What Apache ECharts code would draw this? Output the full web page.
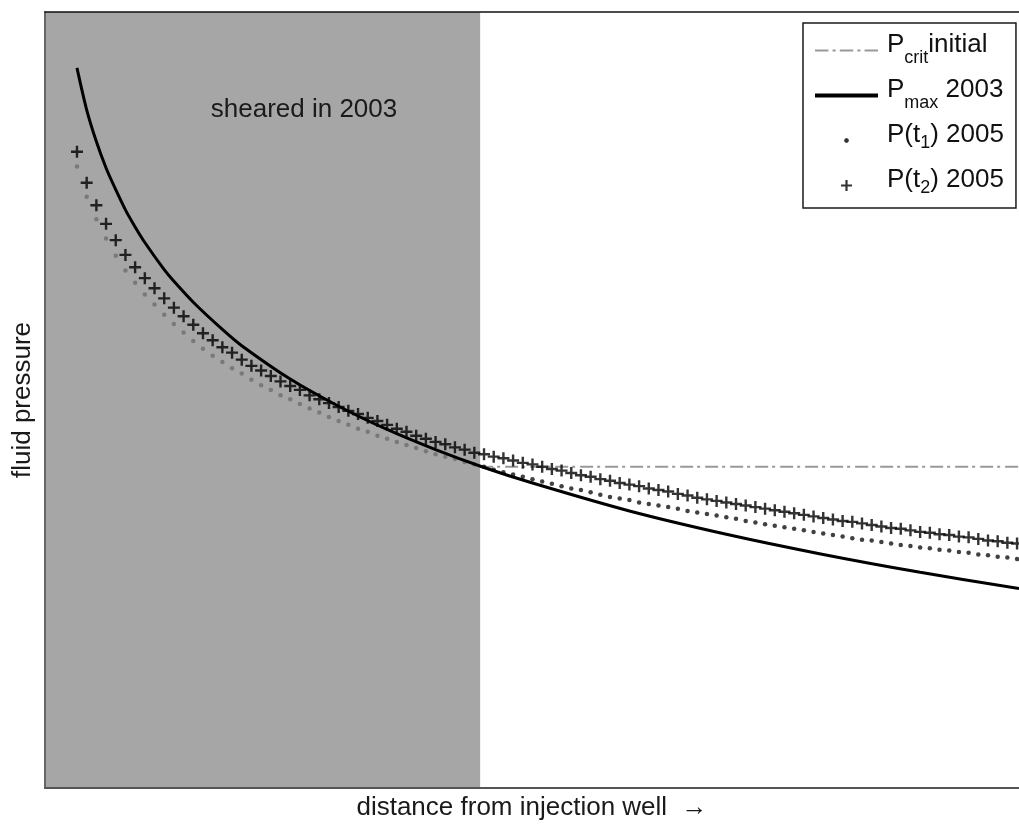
<!DOCTYPE html>
<html>
<head>
<meta charset="utf-8">
<script src="https://cdn.jsdelivr.net/npm/echarts@6/dist/echarts.min.js"></script>
<style>
  html, body { margin: 0; padding: 0; background: #fff; }
  #chart { width: 1019px; height: 824px; }
</style>
</head>
<body>
<div id="chart"></div>
<script>
// Distance from the injection well (arbitrary units) of the sampled pressure profiles
const distance = [
  3, 4, 5, 6, 7, 8, 9, 10, 11, 12, 13, 14, 15, 16, 17, 18, 19, 20, 21, 22,
  23, 24, 25, 26, 27, 28, 29, 30, 31, 32, 33, 34, 35, 36, 37, 38, 39, 40, 41, 42,
  43, 44, 45, 46, 47, 48, 49, 50, 51, 52, 53, 54, 55, 56, 57, 58, 59, 60, 61, 62,
  63, 64, 65, 66, 67, 68, 69, 70, 71, 72, 73, 74, 75, 76, 77, 78, 79, 80, 81, 82,
  83, 84, 85, 86, 87, 88, 89, 90, 91, 92, 93, 94, 95, 96, 97, 98, 99, 100
];

// P(t1) 2005 fluid pressure at each distance
const pressureT1 = [
  80.1, 76.2, 73.3, 70.8, 68.6, 66.7, 65.1, 63.6, 62.3, 61.0,
  59.8, 58.7, 57.6, 56.6, 55.7, 54.9, 54.1, 53.4, 52.6, 51.9,
  51.3, 50.6, 50.1, 49.5, 48.9, 48.4, 47.8, 47.3, 46.8, 46.3,
  45.9, 45.4, 45.0, 44.6, 44.2, 43.8, 43.4, 43.0, 42.7, 42.4,
  42.0, 41.7, 41.4, 41.0, 40.7, 40.4, 40.1, 39.8, 39.5, 39.2,
  38.9, 38.6, 38.4, 38.1, 37.8, 37.5, 37.3, 37.1, 36.8, 36.6,
  36.4, 36.2, 36.0, 35.7, 35.5, 35.3, 35.1, 34.9, 34.7, 34.4,
  34.2, 34.0, 33.8, 33.6, 33.4, 33.2, 33.0, 32.8, 32.6, 32.4,
  32.2, 32.0, 31.9, 31.7, 31.5, 31.3, 31.2, 31.0, 30.9, 30.7,
  30.6, 30.4, 30.3, 30.1, 30.0, 29.8, 29.7, 29.5
];

// P(t2) 2005 fluid pressure at each distance
const pressureT2 = [
  82.0, 78.0, 75.1, 72.7, 70.6, 68.7, 67.1, 65.7, 64.4, 63.1,
  61.9, 60.8, 59.7, 58.6, 57.7, 56.8, 56.1, 55.2, 54.4, 53.8,
  53.1, 52.4, 51.8, 51.3, 50.6, 50.1, 49.6, 49.1, 48.6, 48.2,
  47.7, 47.3, 46.8, 46.3, 45.9, 45.4, 45.0, 44.6, 44.3, 43.9,
  43.6, 43.2, 43.0, 42.7, 42.5, 42.2, 41.9, 41.7, 41.4, 41.1,
  40.9, 40.6, 40.3, 40.1, 39.8, 39.6, 39.3, 39.1, 38.9, 38.6,
  38.4, 38.2, 37.9, 37.7, 37.4, 37.2, 37.0, 36.8, 36.6, 36.4,
  36.2, 36.0, 35.8, 35.6, 35.4, 35.2, 35.0, 34.8, 34.6, 34.4,
  34.3, 34.1, 33.9, 33.7, 33.5, 33.4, 33.2, 33.0, 32.9, 32.7,
  32.6, 32.4, 32.3, 32.1, 31.9, 31.8, 31.6, 31.5
];

// Pmax 2003 envelope, sampled along the curve
const pMaxDistance = [3, 4, 5, 6, 7, 8, 9, 10, 12, 13, 15, 18, 20, 25, 30, 35, 40, 45, 50, 60, 70, 80, 90, 100.2];
const pMaxPressure = [92.8, 87.4, 83.3, 79.9, 77.1, 74.5, 72.3, 70.3, 66.8, 65.3, 62.6, 59.1, 57.0, 52.7, 49.2, 46.2, 43.6, 41.3, 39.3, 35.7, 32.7, 30.1, 27.8, 25.7];

// Initial critical pressure and the extent of the zone sheared in 2003
const pCritInitial = 41.4;
const shearedEdge = 44.6;

const seriesNames = ['Pcrit initial', 'Pmax 2003', 'P(t1) 2005', 'P(t2) 2005'];
const legendLabels = {
  'Pcrit initial': '{p|P}{d|crit}{m|initial}',
  'Pmax 2003': '{p|P}{d|max}{m| 2003}',
  'P(t1) 2005': '{p|P(t}{s|1}{m|) 2005}',
  'P(t2) 2005': '{p|P(t}{s|2}{m|) 2005}'
};

const FONT = '"Liberation Sans", Arial, Helvetica, sans-serif';
const X_MIN = -0.3, X_MAX = 100.2;

// plus-sign marker drawn as two filled bars
const plusPath = 'path://M4.8,0h2.4v12h-2.4z M0,4.8h12v2.4h-12z';

const chart = echarts.init(document.getElementById('chart'), null, { renderer: 'canvas' });

chart.setOption({
  animation: false,
  backgroundColor: '#fff',
  grid: { left: 45, top: 12, right: 0, bottom: 36, containLabel: false, outerBoundsMode: 'none' },
  xAxis: [
    {
      type: 'value', min: X_MIN, max: X_MAX, z: 4,
      name: 'distance from injection well  \u2192',
      nameLocation: 'middle', nameGap: 7,
      nameTextStyle: { fontSize: 26, color: '#1a1a1a', fontFamily: FONT },
      axisLine: { show: true, onZero: false, lineStyle: { color: '#555', width: 2 } },
      axisTick: { show: false }, axisLabel: { show: false }, splitLine: { show: false }
    },
    {
      type: 'value', position: 'top', min: 0, max: 1, z: 4,
      axisLine: { show: true, onZero: false, lineStyle: { color: '#111', width: 1.5 } },
      axisTick: { show: false }, axisLabel: { show: false }, splitLine: { show: false }
    }
  ],
  yAxis: {
    type: 'value', min: 0, max: 100, z: 4,
    name: 'fluid pressure', nameLocation: 'middle', nameRotate: 90, nameGap: 9,
    nameTextStyle: { fontSize: 26, color: '#1a1a1a', fontFamily: FONT },
    axisLine: { show: true, onZero: false, lineStyle: { color: '#666', width: 2 } },
    axisTick: { show: false }, axisLabel: { show: false }, splitLine: { show: false }
  },
  legend: {
    orient: 'vertical', left: 803, top: 23,
    padding: [9, 12, 4, 12], itemGap: 8,
    itemWidth: 63, itemHeight: 14,
    selectedMode: false,
    backgroundColor: '#fff', borderColor: '#1a1a1a', borderWidth: 1.5,
    data: [
      { name: seriesNames[0], icon: 'path://M0,0h13v2h-13z M17,0h3v2h-3z M24,0h13v2h-13z M41,0h3v2h-3z M48,0h13v2h-13z', itemStyle: { color: '#999' } },
      { name: seriesNames[1], icon: 'path://M0,0h63v4h-63z', itemStyle: { color: '#000' } },
      { name: seriesNames[2], icon: 'path://M0,0M14,14M7,4.6L8.7,5.3L9.4,7L8.7,8.7L7,9.4L5.3,8.7L4.6,7L5.3,5.3Z', itemStyle: { color: '#000' } },
      { name: seriesNames[3], icon: 'path://M0,0M14,14M5.9,1.5h2.2v11h-2.2z M1.5,5.9h11v2.2h-11z', itemStyle: { color: '#000' } }
    ],
    formatter: name => legendLabels[name],
    textStyle: {
      fontSize: 26, color: '#111', fontFamily: FONT,
      rich: {
        p: { fontSize: 26, fontFamily: FONT, color: '#111', lineHeight: 45, padding: [0, 0, 11, 4] },
        m: { fontSize: 26, fontFamily: FONT, color: '#111', lineHeight: 45, padding: [0, 0, 11, 0] },
        d: { fontSize: 18, fontFamily: FONT, color: '#111', padding: [16, 0, 0, 0] },
        s: { fontSize: 18, fontFamily: FONT, color: '#111', padding: [5, 0, 0, 0] }
      }
    }
  },
  graphic: [
    {
      type: 'text', x: 304, y: 110, z: 10,
      style: {
        text: 'sheared in 2003', fill: '#1a1a1a',
        font: '26px ' + FONT, align: 'center', verticalAlign: 'middle'
      }
    }
  ],
  series: [
    {
      name: seriesNames[0], type: 'line', symbol: 'none', z: 3,
      data: [[shearedEdge, pCritInitial], [X_MAX, pCritInitial]],
      lineStyle: { color: '#999', width: 2, type: [13, 4, 3, 5] },
      markArea: {
        silent: true, z: 1,
        itemStyle: { color: '#a6a6a6', opacity: 1 },
        data: [[{ xAxis: X_MIN, yAxis: 0 }, { xAxis: shearedEdge, yAxis: 100 }]]
      }
    },
    {
      name: seriesNames[2], type: 'scatter', symbol: 'circle', symbolSize: 4.5, z: 3,
      data: distance.map((d, i) => [d, pressureT1[i]]),
      itemStyle: { color: p => (p.value[0] < shearedEdge ? '#6e6e6e' : '#111') }
    },
    {
      name: seriesNames[1], type: 'line', symbol: 'none', smooth: 0.3, z: 4,
      data: pMaxDistance.map((d, i) => [d, pMaxPressure[i]]),
      lineStyle: { color: '#000', width: 3 }
    },
    {
      name: seriesNames[3], type: 'scatter', symbol: plusPath, symbolSize: 12, z: 5,
      data: distance.map((d, i) => [d, pressureT2[i]]),
      itemStyle: { color: '#000' }
    }
  ]
});
</script>
</body>
</html>
